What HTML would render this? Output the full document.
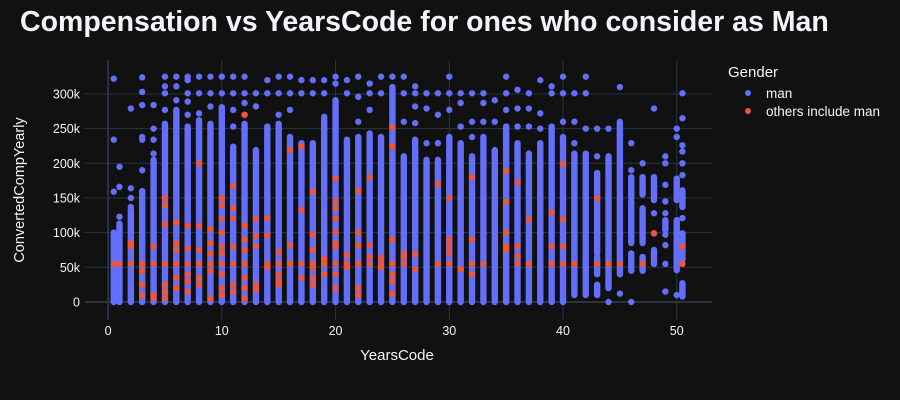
<!DOCTYPE html>
<html><head><meta charset="utf-8"><style>
body{margin:0;background:#111111;}
svg{display:block;font-family:"Liberation Sans",sans-serif;}
</style></head><body>
<svg id="chart" width="900" height="400">
<rect width="900" height="400" fill="#111111"/>
<text x="20" y="31" fill="#f2f5fa" font-size="28.5" font-weight="bold">Compensation vs YearsCode for ones who consider as Man</text>
<g id="grid"></g>
<g id="marks"></g>
<g id="axes"></g>
<text x="397" y="360" fill="#f2f5fa" font-size="15" text-anchor="middle">YearsCode</text>
<text transform="translate(24,190) rotate(-90)" fill="#f2f5fa" font-size="14.5" text-anchor="middle">ConvertedCompYearly</text>
<g>
<text x="728" y="77" fill="#f2f5fa" font-size="15">Gender</text>
<g><circle cx="748" cy="93" r="3" fill="#636efa"/><text x="766" y="98" fill="#f2f5fa" font-size="13.5">man</text></g>
<g><circle cx="748" cy="111" r="3" fill="#ef553b"/><text x="766" y="116" fill="#f2f5fa" font-size="13.5">others include man</text></g>
</g>
</svg>
<script>
const years=[0.5,1,2,3,4,5,6,7,8,9,10,11,12,13,14,15,16,17,18,19,20,21,22,23,24,25,26,27,28,29,30,31,32,33,34,35,36,37,38,39,40,41,42,43,44,45,46,47,48,49,50,50.5];
const manSegments=[
[[0,100]],[[0,113]],[[0,133]],[[0,160]],[[0,205]],[[0,257]],[[0,277]],[[0,253]],[[0,262]],[[0,257]],
[[0,281]],[[0,224]],[[0,257]],[[0,219]],[[0,253]],[[0,257]],[[0,238]],[[0,229]],[[0,229]],[[0,267]],
[[0,291]],[[0,234]],[[0,238]],[[0,243]],[[0,238]],[[0,310]],[[0,210]],[[0,234]],[[0,205]],[[0,205]],
[[0,238]],[[0,229]],[[0,210]],[[0,238]],[[0,219]],[[0,253]],[[0,229]],[[0,214]],[[0,229]],[[0,253]],
[[0,238]],[[10,214]],[[10,214]],[[10,25],[40,65],[70,186]],[[20,210]],[[40,260]],[[45,70],[85,145],[150,180]],[[45,65],[85,135],[155,180]],[[55,75],[150,180]],[[104,118]],[[46,118],[147,178]],[[61,99],[137,161],[8,27]]
];
const manOutliers=[
[159,234,322],[123,166,195],[137,150,164,279],[190,234,238,284,303,324],[214,234,250,284],[277,301,311,325],[291,311,325],[270,289,301,320,325],[272,301,325],[282,301,325],
[301,325],[253,277,301,325],[270,287,301,325],[282,301],[301,320],[270,301,325],[277,301,325],[301,320],[301,320],[301,320],
[315,325],[301,320],[260,296,325],[277,301,315],[301,325],[325],[260,301,325],[258,282,301,311],[229,279,301],[229,270,301],
[277,301,325],[253,287,301],[238,260,301],[260,287,301],[260,291],[277,301,325],[253,279,306],[253,279,301],[250,272,320],[301,311],
[260,301,325],[229,260,301],[250,301,325],[210,250],[250,0],[240,310,12],[190,229,0],[200],[279,128,99,166,147],[210,200,169,145,128,97,82,55,15],[250,238,10],[301,265,226,217,200,183,121]
];
const redYears=[0.5,1,2,2,2,3,3,3,3,4,4,4,4,5,5,5,5,5,5,5,6,6,6,6,6,6,7,7,7,7,7,7,8,8,8,8,8,8,9,9,9,9,9,9,10,10,10,10,10,10,10,10,10,10,11,11,11,11,11,11,11,12,12,12,12,12,12,12,12,13,13,13,13,13,14,14,14,14,15,15,15,15,15,16,16,16,16,17,17,17,17,18,18,18,18,18,18,18,19,19,19,20,20,20,20,20,20,20,20,20,20,21,21,21,22,22,22,22,22,22,23,23,23,23,24,24,24,25,25,25,25,25,25,25,26,26,26,27,27,29,29,30,30,30,30,30,31,32,32,32,32,33,35,35,35,35,35,36,36,36,36,37,37,39,39,39,40,40,40,40,41,43,43,44,45,47,48,50.5,50.5];
const redValues=[55,55,55,85,80,55,45,25,10,55,80,10,5,55,150,140,112,25,15,5,55,115,85,75,35,20,55,110,77,40,30,15,55,200,110,75,35,25,55,105,85,70,45,5,55,150,140,120,100,80,70,40,20,10,55,167,135,120,80,25,15,55,270,110,90,75,35,20,5,120,95,80,25,18,55,121,96,50,55,72,40,30,25,55,219,82,56,55,224,133,35,55,159,97,75,50,35,25,55,62,40,55,178,145,135,120,100,85,80,40,20,55,68,50,55,160,100,82,20,10,55,180,82,65,55,64,50,55,252,224,90,40,30,12,70,65,55,69,47,170,55,150,90,80,70,55,47,180,90,55,40,55,189,144,100,80,75,173,80,66,55,119,55,129,80,55,199,119,80,55,55,150,55,55,55,55,99,80,55];
const xTicks=[0,10,20,30,40,50];
const yTicks=[0,50,100,150,200,250,300];
const yTickLabels=["0","50k","100k","150k","200k","250k","300k"];

const NS="http://www.w3.org/2000/svg";
const X0=85,X1=712,Y0=60,Y1=320;
const xMin=-2.03,xMax=53.1,yMin=-26,yMax=349;
const xs=v=>X0+(v-xMin)/(xMax-xMin)*(X1-X0);
const ys=v=>Y1-(v-yMin)/(yMax-yMin)*(Y1-Y0);
function mk(tag,attrs,parent){const e=document.createElementNS(NS,tag);for(const k in attrs)e.setAttribute(k,attrs[k]);parent.appendChild(e);return e;}
const grid=document.getElementById('grid'),marks=document.getElementById('marks'),axes=document.getElementById('axes');
yTicks.forEach((t,i)=>{
  const l=mk('line',{x1:X0,x2:X1,y1:ys(t),y2:ys(t),stroke:'#283442','stroke-width':t===0?2:1},grid);
  
  
  const tx=mk('text',{x:X0-5,y:ys(t)+4.5,fill:'#f2f5fa','font-size':12.5,'text-anchor':'end'},axes);
  tx.textContent=yTickLabels[i];
  
  
});
xTicks.forEach(t=>{
  const l=mk('line',{x1:xs(t),x2:xs(t),y1:Y0,y2:Y1,stroke:'#283442','stroke-width':t===0?2:1},grid);
  
  
  const tx=mk('text',{x:xs(t),y:Y1+15,fill:'#f2f5fa','font-size':12.5,'text-anchor':'middle'},axes);
  tx.textContent=String(t);
  
  
});
const R=3.2;
years.forEach((yr,i)=>{
  const cx=xs(yr);
  manSegments[i].forEach(s=>{
    const top=ys(s[1]),bot=ys(s[0]);
    const r=mk('rect',{x:cx-R,y:top-R,width:2*R,height:bot-top+2*R,rx:R,fill:'#636efa'},marks);
    
    
  });
  manOutliers[i].forEach(v=>{
    const c=mk('circle',{cx:cx,cy:ys(v),r:R,fill:'#636efa'},marks);
    
    
  });
});
redYears.forEach((yr,i)=>{
  const c=mk('circle',{cx:xs(yr),cy:ys(redValues[i]),r:R,fill:'#ef553b'},marks);
  
  
});
</script>
</body></html>
